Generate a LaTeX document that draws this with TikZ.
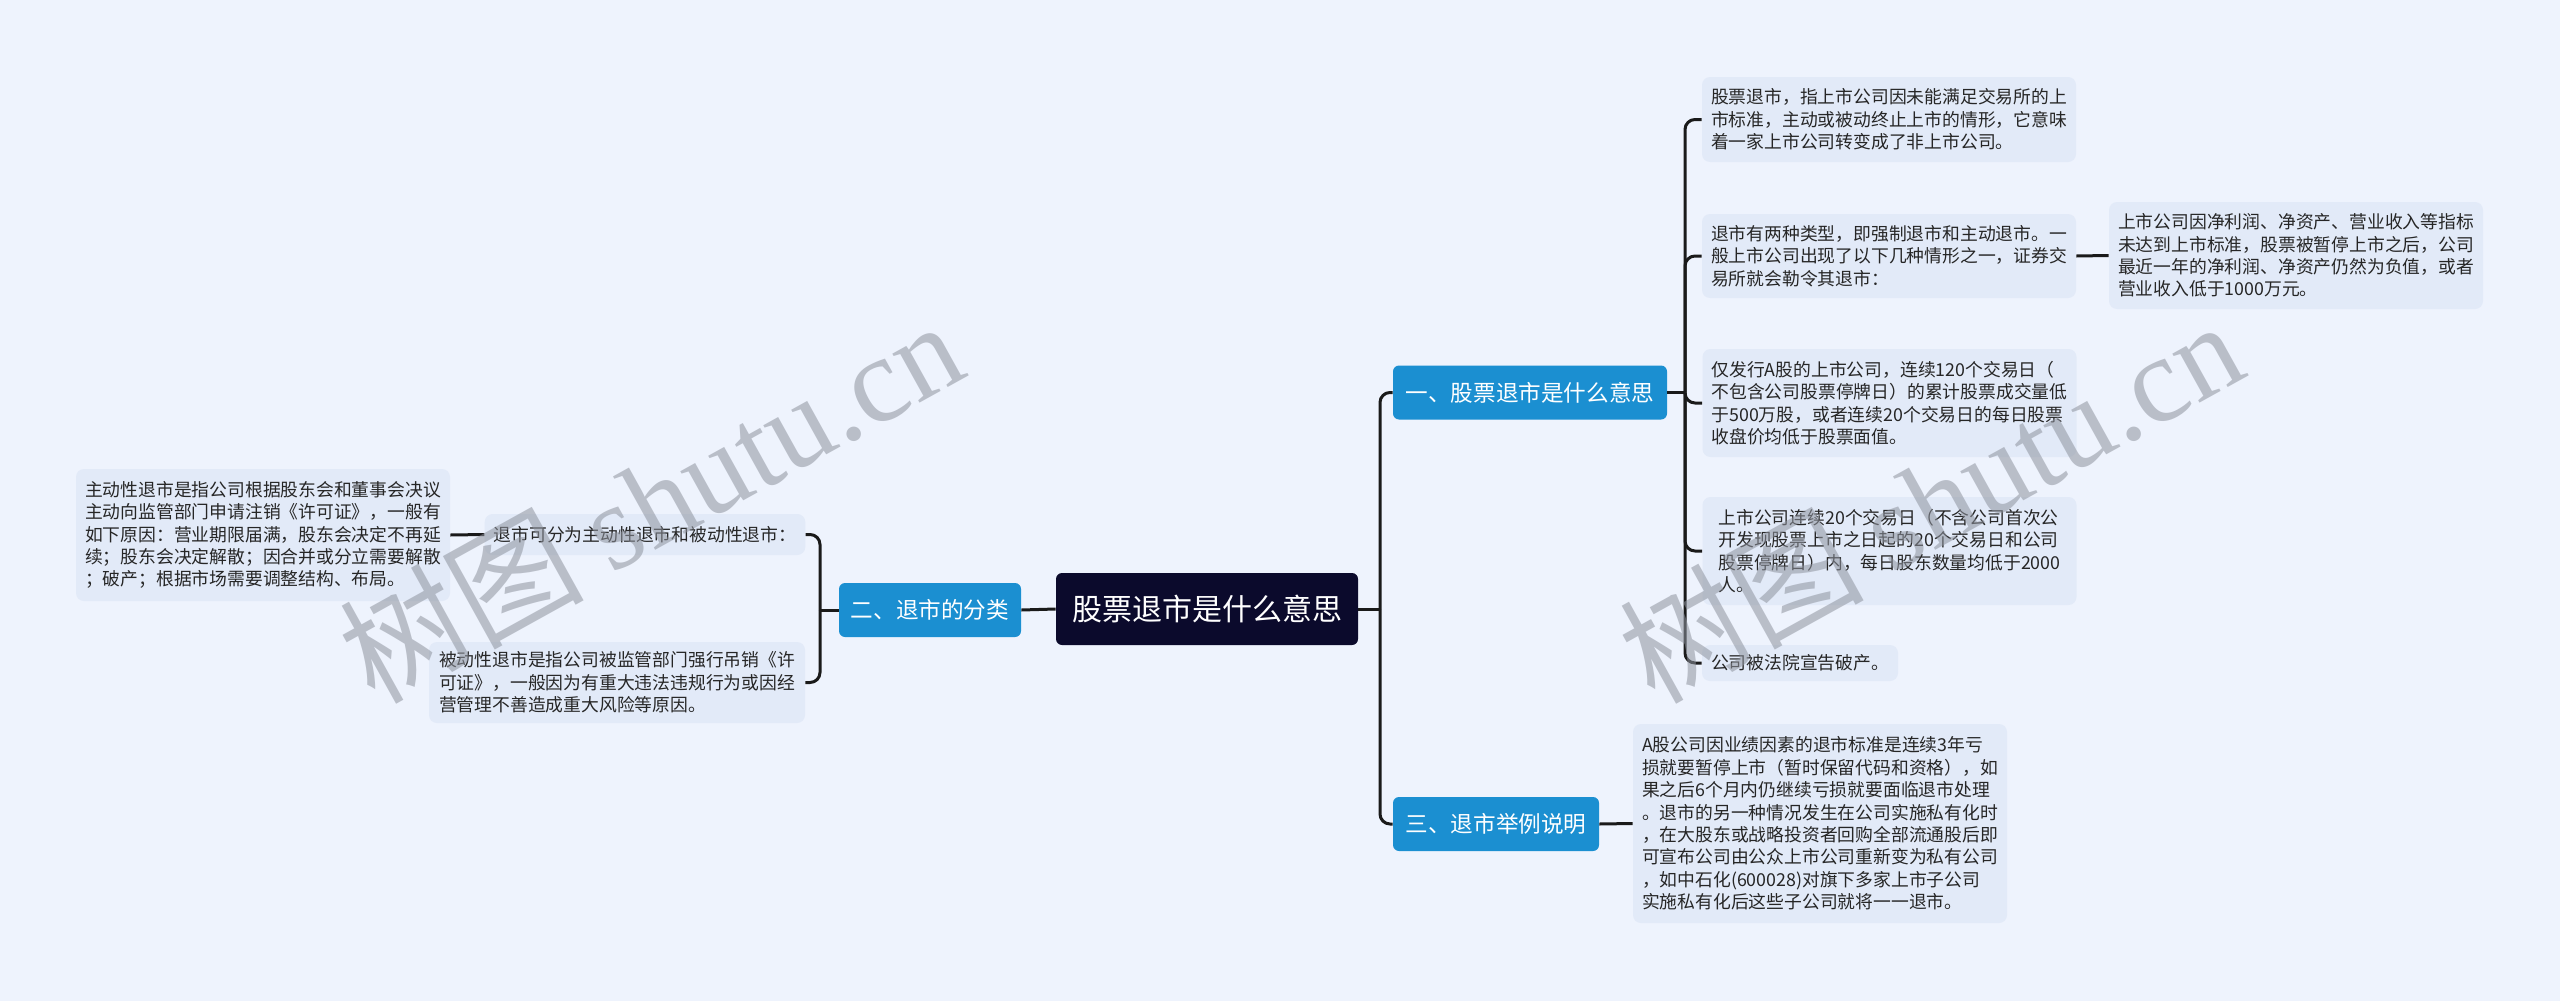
\documentclass[tikz,border=0pt]{standalone}
\usepackage{fontspec}
\setmainfont{Noto Sans CJK SC}
\newfontfamily\wmlat{Liberation Serif}
\newfontfamily\wmcjk{Noto Sans CJK SC}
\definecolor{bgc}{HTML}{EEF3FD}
\definecolor{leaffill}{HTML}{E2EAF8}
\definecolor{bluec}{HTML}{1B8FD1}
\definecolor{rootc}{HTML}{0B0A2C}
\definecolor{linec}{HTML}{1A1A1A}
\definecolor{wmc}{HTML}{8E939E}
\newcommand\leaffont{\fontsize{8.9pt}{11.2pt}\selectfont}
\newcommand\branchfont{\fontsize{11.3pt}{13pt}\selectfont}
\newcommand\rootfont{\fontsize{15pt}{17pt}\selectfont}
\tikzset{
  conn/.style={draw=linec, line width=1.5pt, rounded corners=5pt},
  leaf/.style={fill=leaffill, rounded corners=4pt, align=left, font=\leaffont, inner xsep=4.5pt, inner ysep=0pt, text=black!85},
  branch/.style={fill=bluec, rounded corners=3pt, font=\branchfont, text=white, inner sep=0pt},
  rootbox/.style={fill=rootc, rounded corners=3pt, font=\rootfont, text=white, inner sep=0pt},
  wmark/.style={rotate=29, text=wmc, opacity=0.55, inner sep=0pt}
}
\begin{document}
\begin{tikzpicture}[x=0.5pt, y=-0.5pt]
\fill[bgc] (0,0) rectangle (2560,1001);
\useasboundingbox (0,0) rectangle (2560,1001);

% main nodes
\node[rootbox, minimum width=151pt, minimum height=36pt] (root) at (1207,609) {股票退市是什么意思};
\node[branch, minimum width=91pt, minimum height=27pt] (b2) at (930,610) {二、退市的分类};
\node[branch, minimum width=137pt, minimum height=27pt] (b1) at (1530,392.5) {一、股票退市是什么意思};
\node[branch, minimum width=103pt, minimum height=27pt] (b3) at (1496,824) {三、退市举例说明};

% right leaves
\node[leaf, minimum width=187pt, minimum height=42.5pt] (la) at (1889,119.5) {股票退市，指上市公司因未能满足交易所的上\\市标准，主动或被动终止上市的情形，它意味\\着一家上市公司转变成了非上市公司。};
\node[leaf, minimum width=187pt, minimum height=42pt] (lb) at (1889,256) {退市有两种类型，即强制退市和主动退市。一\\般上市公司出现了以下几种情形之一，证券交\\易所就会勒令其退市：};
\node[leaf, minimum width=187pt, minimum height=53.5pt] (lc) at (2296,255.5) {上市公司因净利润、净资产、营业收入等指标\\未达到上市标准，股票被暂停上市之后，公司\\最近一年的净利润、净资产仍然为负值，或者\\营业收入低于1000万元。};
\node[leaf, minimum width=187pt, minimum height=54pt] (ld) at (1889.5,403) {仅发行A股的上市公司，连续120个交易日（\\不包含公司股票停牌日）的累计股票成交量低\\于500万股，或者连续20个交易日的每日股票\\收盘价均低于股票面值。};
\node[leaf, minimum width=187pt, minimum height=54pt] (le) at (1889.5,551) {上市公司连续20个交易日（不含公司首次公\\开发现股票上市之日起的20个交易日和公司\\股票停牌日）内，每日股东数量均低于2000\\人。};
\node[leaf, minimum width=97pt, minimum height=18pt] (lf) at (1800,663) {公司被法院宣告破产。};
\node[leaf, minimum width=187pt, minimum height=99.5pt] (lg) at (1820,823.5) {A股公司因业绩因素的退市标准是连续3年亏\\损就要暂停上市（暂时保留代码和资格），如\\果之后6个月内仍继续亏损就要面临退市处理\\。退市的另一种情况发生在公司实施私有化时\\，在大股东或战略投资者回购全部流通股后即\\可宣布公司由公众上市公司重新变为私有公司\\，如中石化(600028)对旗下多家上市子公司\\实施私有化后这些子公司就将一一退市。};

% left leaves
\node[leaf, minimum width=160pt, minimum height=20.5pt] (l1) at (645,534.5) {退市可分为主动性退市和被动性退市：};
\node[leaf, minimum width=186pt, minimum height=66pt] (lbig) at (263,535) {主动性退市是指公司根据股东会和董事会决议\\主动向监管部门申请注销《许可证》，一般有\\如下原因：营业期限届满，股东会决定不再延\\续；股东会决定解散；因合并或分立需要解散\\；破产；根据市场需要调整结构、布局。};
\node[leaf, minimum width=188pt, minimum height=40.5pt] (l3) at (617,682.5) {被动性退市是指公司被监管部门强行吊销《许\\可证》，一般因为有重大违法违规行为或因经\\营管理不善造成重大风险等原因。};

% connectors
\coordinate (tR) at (1380,609);
\coordinate (t1) at (1685,392.5);
\coordinate (tL) at (820,610);
\draw[conn] (root.east) -- (tR);
\draw[conn] (tR) |- (b1.west);
\draw[conn] (tR) |- (b3.west);
\draw[conn] (root.west) -- (b2.east);
\draw[conn] (b1.east) -- (t1);
\draw[conn] (t1) |- (la.west);
\draw[conn] (t1) |- (lb.west);
\draw[conn] (t1) |- (ld.west);
\draw[conn] (t1) |- (le.west);
\draw[conn] (t1) |- (lf.west);
\draw[conn] (lb.east) -- (lc.west);
\draw[conn] (b3.east) -- (lg.west);
\draw[conn] (b2.west) -- (tL);
\draw[conn] (tL) |- (l1.east);
\draw[conn] (tL) |- (l3.east);
\draw[conn] (l1.west) -- (lbig.east);

% watermarks
\node[wmark] (wm1) at (650,500) {\fontsize{61pt}{61pt}\selectfont\wmcjk 树图 \wmlat shutu.cn};
\node[wmark] (wm2) at (1930,500) {\fontsize{61pt}{61pt}\selectfont\wmcjk 树图 \wmlat shutu.cn};
\end{tikzpicture}
\end{document}
